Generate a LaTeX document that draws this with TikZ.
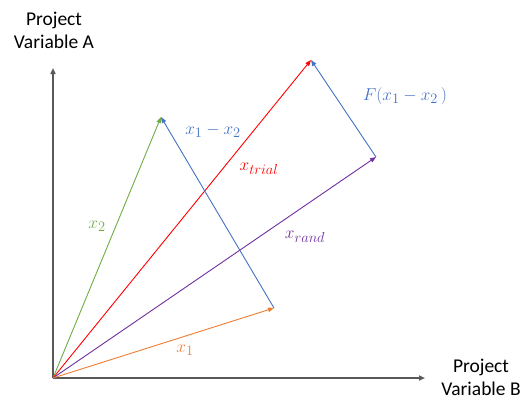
\documentclass[tikz,border=0pt]{standalone}
\usepackage{fontspec}
\setmainfont{Carlito}
\usetikzlibrary{arrows.meta}
\definecolor{axisgray}{RGB}{89,89,89}
\definecolor{vorange}{RGB}{237,125,49}
\definecolor{vgreen}{RGB}{112,173,71}
\definecolor{vblue}{RGB}{68,114,196}
\definecolor{vred}{RGB}{255,0,0}
\definecolor{vpurple}{RGB}{112,48,160}
\begin{document}
\begin{tikzpicture}[x=1pt,y=-1pt,
  vec/.style={line width=0.9pt,-{Triangle[length=6pt,width=4.5pt]}},
  axis/.style={line width=1.6pt,color=axisgray,-{Triangle[length=6pt,width=5pt]}},
  axlabel/.style={font=\fontsize{19.5}{23}\selectfont,align=center,inner sep=0pt},
  mlab/.style={font=\fontsize{19}{22}\selectfont,inner sep=0pt}]
\useasboundingbox (0,0) rectangle (523,399);
\coordinate (O) at (53,378);
\coordinate (ytop) at (53,68);
\coordinate (xright) at (425,378);
\coordinate (x1) at (274,308);
\coordinate (x2) at (161,117);
\coordinate (xt) at (311,60);
\coordinate (xr) at (376,157);
\draw[axis] (O) -- (ytop);
\draw[axis] (O) -- (xright);
\draw[vec,vgreen] (O) -- (x2);
\draw[vec,vred] (O) -- (xt);
\draw[vec,vpurple] (O) -- (xr);
\draw[vec,vorange] (O) -- (x1);
\draw[vec,vblue] (x1) -- (x2);
\draw[vec,vblue] (xr) -- (xt);
\node[axlabel] (la) at (54,30) {Project\\Variable A};
\node[axlabel] (lb) at (481,377) {Project\\Variable B};
\node[mlab,text=vgreen] (l2) at (97,226) {$x_2$};
\node[mlab,text=vblue] (l12) at (213,131) {$x_1 - x_2$};
\node[mlab,text=vred] (lt) at (259,169) {$x_{trial}$};
\node[mlab,text=vpurple] (lr) at (305,237) {$x_{rand}$};
\node[mlab,text=vorange] (l1) at (185,350) {$x_1$};
\node[mlab,text=vblue] (lf) at (405,96) {$F(x_1 - x_2\,)$};
\end{tikzpicture}
\end{document}
